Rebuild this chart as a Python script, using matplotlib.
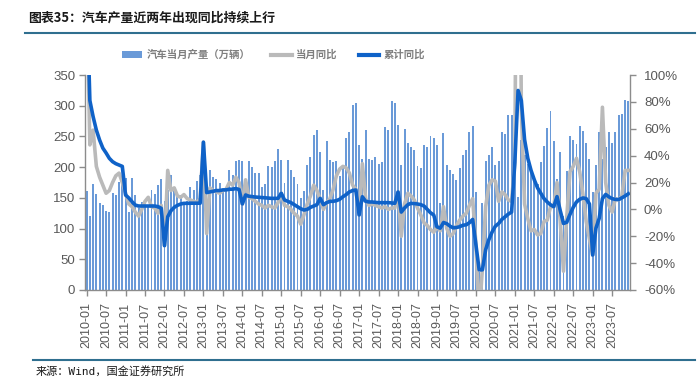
import numpy as np
import pandas as pd
import matplotlib
matplotlib.use("Agg")
import matplotlib.pyplot as plt
from matplotlib.lines import Line2D
from matplotlib.patches import Patch
from matplotlib.ticker import FuncFormatter

# monthly auto production, 10k units, 2010-01 .. 2023-12
production = [
    161, 120, 173, 156, 141, 138, 128, 127, 158, 154, 176, 172,
    183, 127, 182, 155, 134, 143, 135, 138, 162, 157, 171, 180,
    145, 163, 187, 162, 157, 155, 142, 145, 168, 163, 177, 187,
    204, 134, 196, 184, 180, 175, 163, 168, 196, 187, 210, 212,
    210, 165, 210, 200, 191, 190, 168, 172, 202, 201, 210, 230,
    211, 174, 212, 195, 184, 172, 149, 161, 203, 216, 252, 260,
    224, 163, 242, 212, 209, 210, 186, 203, 248, 258, 301, 305,
    236, 214, 261, 213, 211, 216, 205, 208, 266, 261, 308, 304,
    269, 203, 262, 240, 233, 228, 202, 198, 236, 233, 250, 247,
    236, 141, 255, 204, 196, 189, 179, 198, 220, 228, 258, 267,
    159, 29, 141, 210, 219, 233, 203, 210, 257, 254, 285, 285,
    239, 151, 245, 219, 205, 192, 186, 172, 208, 234, 263, 291,
    242, 181, 224, 121, 193, 250, 245, 238, 267, 259, 239, 214,
    159, 203, 258, 214, 233, 257, 240, 258, 285, 286, 309, 308,
]

# monthly yoy, %
yoy_month = [
    165, 48, 59, 32, 24, 18, 12, 14, 20, 25, 27, 20,
    12, 4, 2, -2, -5, 0, 6, 9, 2, 1, -3, 3,
    -27, 29, 14, 16, 10, 9, 11, 8, 7, 6, 5, 8,
    50, -18, 16, 14, 13, 12, 14, 15, 20, 18, 24, 20,
    4, 22, 9, 8, 6, 4, 3, 1, 3, 2, 1, 5,
    12, 3, 2, 0, -3, -5, -11, -4, 4, 10, 18, 14,
    7.5, 0, 5, 8, 15, 25, 30, 32, 31, 27, 18, 15,
    -4, 34, 8, 3, 4, 3, 2, 1, 2, 0, 1, 1,
    13, -20, 4, 12, 10, 7, 1, -4, -10, -12, -15, -17,
    -13, -16, 2, -14, -20, -18, -12, -8, -5, -3, 3, 8,
    -26, -80, -44, 2, 18, 22, 21, 6, 13, 11, 7, 6,
    35, 420, 75, 4, -7, -16, -15, -19, -18, -9, -8, 2,
    2, 20, -9, -46, -6, 28, 32, 38, 28, 11, -9, -22,
    -34, 12, 15, 76, 20, 3, -2, 8, 7, 10, 29, 29,
]

# cumulative yoy, %
yoy_cum = [
    165, 81, 69, 59, 51.6, 45.6, 42, 38, 35.5, 34, 33, 32,
    10.7, 8.5, 5.7, 3.2, 2.5, 2.5, 2.5, 2.5, 2.5, 2.5, 2, 0.8,
    -27, -5.5, -1, 1.5, 3, 4, 4.5, 4.5, 4.6, 4.6, 4.6, 4.6,
    50, 12.5, 13, 13.5, 14, 14, 14.5, 14.5, 15, 15, 15.5, 14.8,
    4, 10.7, 9.8, 9.5, 9.2, 9, 8.8, 8.6, 8.4, 8.2, 8.2, 8.2,
    12, 7, 6, 5, 3.5, 2, 0.5, -0.5, 0, 1.5, 2.5, 3.5,
    8.2, 3.5, 5, 6, 6, 6.5, 7.5, 9.4, 11, 13, 14, 14.4,
    -4.2, 9.4, 6, 5.5, 5.5, 5.2, 5, 5, 5, 5, 4.8, 4.5,
    13, -2, 1, 3.5, 4.5, 4.3, 4, 3.5, 2.5, 0, -2.5, -4.2,
    -13, -14, -9.8, -10.6, -12.5, -13.7, -13.5, -12.9, -11.8, -11.5, -9.9, -7.5,
    -26, -45, -45, -30, -22.5, -16.8, -12.5, -10.5, -7.5, -5.5, -3.5, -2,
    35, 88.5, 81, 52, 38, 29, 22, 16, 12, 8, 5.5, 3.4,
    2, 9.5, -1, -10.5, -9.6, -3.7, 1.5, 5.5, 7.5, 8.5, 8, 4,
    -34, -14, -6.7, 8, 11.1, 9.3, 8, 7.4, 7.3, 8.6, 10, 11.6,
]

months = pd.date_range("2010-01", periods=len(production), freq="MS").strftime("%Y-%m")

bar_color = "#6A9AD8"
grey_color = "#BABABA"
blue_color = "#0F62C8"
axis_color = "#8C8C8C"
text_color = "#595959"
cjk = ["Noto Sans CJK SC", "DejaVu Sans"]

plt.rcParams["font.family"] = ["Liberation Sans", "Noto Sans CJK SC"]

fig = plt.figure(figsize=(6.99, 3.78), dpi=100)
ax = fig.add_axes([85 / 699, 1 - 290 / 378, 545 / 699, 215 / 378])
ax2 = ax.twinx()

x = np.arange(len(production))
ax.bar(x, production, width=0.6, color=bar_color, linewidth=0)
ax2.plot(x, yoy_month, color=grey_color, lw=2.6, solid_joinstyle="round")
ax2.plot(x, yoy_cum, color=blue_color, lw=2.6, solid_joinstyle="round")

ax.set_xlim(-0.5, len(production) - 0.5)
ax.set_ylim(0, 350)
ax.set_yticks(range(0, 351, 50))
ax2.set_ylim(-60, 100)
ax2.set_yticks(range(-60, 101, 20))
ax2.yaxis.set_major_formatter(FuncFormatter(lambda v, p: f"{v:.0f}%"))

ax.set_xticks(x[::6])
ax.set_xticklabels(months[::6], rotation=90)

for a in (ax, ax2):
    a.spines["top"].set_visible(False)
    for s in ("left", "right", "bottom"):
        a.spines[s].set_color(axis_color)
        a.spines[s].set_linewidth(1.0)
    a.tick_params(colors=axis_color, labelcolor=text_color, length=4, width=1)
ax.spines["right"].set_visible(False)
ax2.spines["left"].set_visible(False)
ax2.spines["bottom"].set_visible(False)
ax.tick_params(axis="y", labelsize=9.5, pad=3)
ax.tick_params(axis="x", labelsize=9, pad=5)
ax2.tick_params(axis="y", labelsize=9.5, pad=6)

# legend
handles = [
    Patch(facecolor=bar_color, edgecolor="none"),
    Line2D([], [], color=grey_color, lw=3),
    Line2D([], [], color=blue_color, lw=3),
]
labels = ["汽车当月产量（万辆）", "当月同比", "累计同比"]
leg = fig.legend(handles, labels, loc="center", bbox_to_anchor=(0.391, 1 - 55 / 378),
                 ncol=3, frameon=False, handlelength=2.0, handletextpad=0.4,
                 columnspacing=2.0, prop={"family": cjk, "size": 7.5, "weight": "bold"})
for t in leg.get_texts():
    t.set_color("#7F7F7F")

# title, rules and source
fig.text(28 / 699, 1 - 18 / 378, "图表35：汽车产量近两年出现同比持续上行",
         fontsize=9.3, fontweight="bold", family=cjk, va="center", ha="left", color="#1a1a1a")
fig.add_artist(Line2D([25 / 699, 695 / 699], [1 - 33 / 378] * 2, color="#2F6F8F", lw=1.5))
fig.add_artist(Line2D([33 / 699, 695 / 699], [1 - 360 / 378] * 2, color="#2F6F8F", lw=1.5))
fig.text(36 / 699, 1 - 371 / 378, "来源：Wind，国金证券研究所", fontsize=8,
         family=["DejaVu Sans Mono", "Noto Sans CJK SC"], va="center", ha="left", color="#1a1a1a")

fig.savefig("out.png", dpi=100)
